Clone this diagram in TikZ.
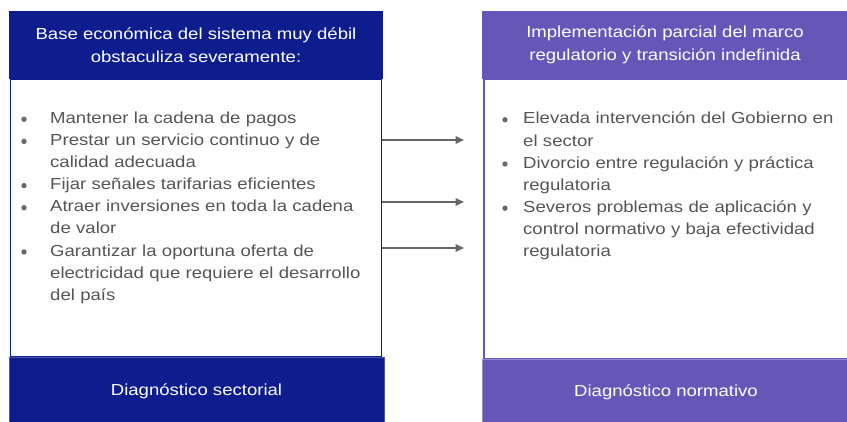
\documentclass[tikz,border=0pt]{standalone}
\usepackage{fontspec}
\setmainfont{Liberation Sans}[FakeStretch=1.16]
\usetikzlibrary{arrows.meta}
\definecolor{navy}{HTML}{0E1D8E}
\definecolor{violetb}{HTML}{6656B8}
\definecolor{txtgrey}{HTML}{555555}
\definecolor{bulgrey}{HTML}{6A6A6A}
\definecolor{arrgrey}{HTML}{666666}
\tikzset{
  panelbox/.style={rectangle, inner sep=0pt, outer sep=0pt, anchor=north west},
  headtext/.style={text=white, align=center, font=\fontsize{16}{23.5}\selectfont},
  itemtext/.style={text=txtgrey, align=left, text width=330pt, inner sep=0pt, anchor=base west, font=\fontsize{16}{22.1}\selectfont},
  bul/.style={circle, fill=bulgrey, inner sep=0pt, minimum size=5.4pt},
  linkarrow/.style={draw=arrgrey, line width=2pt, -{Triangle[length=8.5pt,width=7.5pt]}}
}
\begin{document}
\begin{tikzpicture}[x=1pt,y=1pt]
\useasboundingbox (0,0) rectangle (847,421);
\clip (0,0) rectangle (847,421);
% left panel
\node[panelbox, draw=navy, line width=1.8pt, fill=white, minimum width=371pt, minimum height=278pt] (lbody) at (10.5,342) {};
\node[panelbox, fill=navy, minimum width=374pt, minimum height=68pt] (lhead) at (9,410) {};
\node[headtext] (lheadtxt) at (lhead.center) {Base económica del sistema muy débil\\obstaculiza severamente:};
\node[panelbox, fill=navy, draw=navy!75!white, line width=0.6pt, minimum width=375pt, minimum height=66pt] (lfoot) at (9,64) {};
\node[headtext] (lfoottxt) at ([yshift=-1pt]lfoot.center) {Diagnóstico sectorial};
% right panel
\node[panelbox, draw=violetb, line width=1.3pt, fill=white, minimum width=370pt, minimum height=280pt] (rbody) at (484,342) {};
\node[panelbox, fill=violetb, minimum width=366pt, minimum height=68pt] (rhead) at (482,410) {};
\node[headtext] (rheadtxt) at (rhead.center) {Implementación parcial del marco\\regulatorio y transición indefinida};
\node[panelbox, fill=violetb, draw=violetb!70!white, line width=0.6pt, minimum width=368pt, minimum height=64pt] (rfoot) at (482,62) {};
\node[headtext] (rfoottxt) at ([yshift=-1pt]rfoot.center) {Diagnóstico normativo};
% left items
\node[itemtext] (li1) at (50,297.5) {Mantener la cadena de pagos};
\node[itemtext] (li2) at (50,275.4) {Prestar un servicio continuo y de\\calidad adecuada};
\node[itemtext] (li3) at (50,231.2) {Fijar señales tarifarias eficientes};
\node[itemtext] (li4) at (50,209.1) {Atraer inversiones en toda la cadena\\de valor};
\node[itemtext] (li5) at (50,164.9) {Garantizar la oportuna oferta de\\electricidad que requiere el desarrollo\\del país};
\node[bul] (lb1) at (24,301.7) {};
\node[bul] (lb2) at (24,279.6) {};
\node[bul] (lb3) at (24,235.4) {};
\node[bul] (lb4) at (24,213.3) {};
\node[bul] (lb5) at (24,169.1) {};
% right items
\node[itemtext] (ri1) at (523,297) {Elevada intervención del Gobierno en\\el sector};
\node[itemtext] (ri2) at (523,252.8) {Divorcio entre regulación y práctica\\regulatoria};
\node[itemtext] (ri3) at (523,208.6) {Severos problemas de aplicación y\\control normativo y baja efectividad\\regulatoria};
\node[bul] (rb1) at (505,301.2) {};
\node[bul] (rb2) at (505,257) {};
\node[bul] (rb3) at (505,212.8) {};
% arrows
\coordinate (a1) at (464,281);
\coordinate (a2) at (464,219);
\coordinate (a3) at (464,173);
\draw[linkarrow] (lbody.east |- a1) -- (a1);
\draw[linkarrow] (lbody.east |- a2) -- (a2);
\draw[linkarrow] (lbody.east |- a3) -- (a3);
\end{tikzpicture}
\end{document}
